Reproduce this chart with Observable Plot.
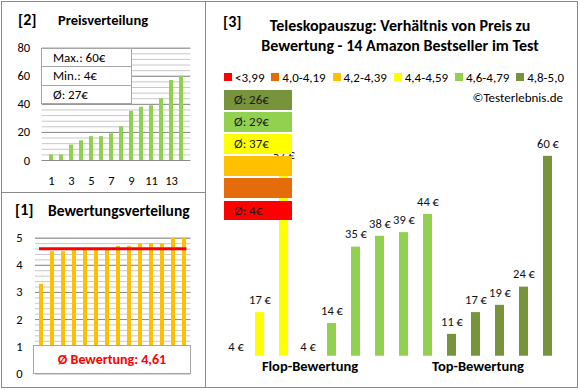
<!DOCTYPE html>
<html><head><meta charset="utf-8">
<script src="https://cdn.jsdelivr.net/npm/d3@7"></script>
<script src="https://cdn.jsdelivr.net/npm/@observablehq/plot@0.6"></script>
<style>
body{margin:0;background:#fff;font-family:Carlito,Lato,"Open Sans",sans-serif;color:#000;}
#root{position:relative;width:580px;height:390px;overflow:hidden;background:#fff;}
.abs{position:absolute;}
.line{position:absolute;background:#8a8a8a;}
.ttl{position:absolute;font-weight:bold;white-space:nowrap;line-height:1;}
.infobox{position:absolute;background:#fff;border:1px solid #a6a6a6;box-sizing:border-box;}
.inforow{height:18.3px;line-height:18.3px;padding-left:11px;font-size:13px;border-bottom:1px solid #a6a6a6;box-sizing:border-box;}
.inforow:last-child{border-bottom:none;}
.avgbox{position:absolute;left:224px;width:68px;height:19.5px;line-height:19.5px;font-size:13px;padding-left:10px;box-sizing:border-box;color:#1a1a1a;}
.leg{position:absolute;left:224px;top:71px;width:340px;display:flex;justify-content:space-between;font-size:13px;line-height:14px;white-space:nowrap;}
.leg span.sw{display:inline-block;width:8px;height:8px;margin-right:3px;vertical-align:1px;}
svg{position:absolute;overflow:visible;}
</style></head><body><div id="root"></div>
<script>
// ---- data (main chart order: sorted by rating) ----
const prices  = [4, 17, 57, 4, 14, 35, 38, 39, 44, 11, 17, 19, 24, 60];
const ratings = [3.3, 4.5, 4.5, 4.6, 4.6, 4.6, 4.6, 4.7, 4.7, 4.8, 4.8, 5.0, 4.8, 5.0];
const ratingClasses = ["<3,99", "4,0-4,19", "4,2-4,39", "4,4-4,59", "4,6-4,79", "4,8-5,0"];
const classLower   = [0, 4.0, 4.2, 4.4, 4.6, 4.8];
const classColors  = ["#FF0000", "#E46C0A", "#FFC000", "#FFFF00", "#92D050", "#77933C"];
const groupLabels  = ["Flop-Bewertung", "Top-Bewertung"];
const groupAt      = [3, 10];
const priceTicks   = [0, 20, 40, 60, 80];
const ratingTicks  = [0, 1, 2, 3, 4, 5];

const FONT = 'Carlito, Lato, "Open Sans", sans-serif';
const root = document.getElementById("root");
function el(tag, cls, css, html){const e=document.createElement(tag); if(cls)e.className=cls; if(css)e.style.cssText=css; if(html!=null)e.innerHTML=html; root.appendChild(e); return e;}

const classOf = r => { let k = 0; classLower.forEach((l, j) => { if (r >= l) k = j; }); return k; };
const mainData = prices.map((p, i) => ({i, price: p, rating: ratings[i], cls: ratingClasses[classOf(ratings[i])]}));
const sortedPrices = d3.sort(prices);
const sortedRatings = d3.sort(ratings);
const avgRating = d3.mean(ratings);

// ---- Panel [2] Preisverteilung ----
const minorP = d3.range(0, 81, 4);
const p2 = Plot.plot({
  width: 205, height: 192,
  marginLeft: 41.7, marginRight: 14.7, marginTop: 47.7, marginBottom: 32,
  style: {fontFamily: FONT, fontSize: "12px", background: "transparent", color: "#000"},
  x: {type: "band", domain: d3.range(1, 15), paddingInner: 0.62, paddingOuter: 0.31},
  y: {domain: [0, 80]},
  marks: [
    Plot.ruleY(minorP, {stroke: "#c8c8c8", strokeWidth: 1}),
    Plot.ruleY(priceTicks, {stroke: "#8c8c8c", strokeWidth: 1}),
    Plot.barY(sortedPrices.map((v, i) => ({n: i + 1, v})), {x: "n", y: "v", fill: "#92D050"}),
    Plot.axisY({ticks: priceTicks, tickSize: 0, tickPadding: 12, label: null, fontSize: 12.5, tickFormat: d3.format("d")}),
    Plot.axisX({tickSize: 0, tickPadding: 16, label: null, fontSize: 12.5, tickFormat: d => d % 2 ? d : ""})
  ]
});
p2.style.left = "0px"; p2.style.top = "0px";
root.appendChild(p2);

// ---- Panel [1] Bewertungsverteilung ----
const minorR = d3.range(0, 5.01, 0.2);
const p1 = Plot.plot({
  width: 205, height: 196,
  marginLeft: 35, marginRight: 14.5, marginTop: 45.7, marginBottom: 14.7,
  style: {fontFamily: FONT, fontSize: "12px", background: "transparent", color: "#000"},
  x: {type: "band", domain: d3.range(1, 15), paddingInner: 0.6, paddingOuter: 0.3, axis: null},
  y: {domain: [0, 5]},
  marks: [
    Plot.ruleY(minorR, {stroke: "#c8c8c8", strokeWidth: 1}),
    Plot.ruleY(ratingTicks, {stroke: "#8c8c8c", strokeWidth: 1}),
    Plot.barY(sortedRatings.map((v, i) => ({n: i + 1, v})), {x: "n", y: "v", fill: "#FFC000"}),
    Plot.ruleY([avgRating], {stroke: "#FF0000", strokeWidth: 3, insetLeft: 4, insetRight: 4}),
    Plot.axisY({ticks: ratingTicks, tickSize: 0, tickPadding: 13, label: null, fontSize: 12.5, tickFormat: d3.format("d")})
  ]
});
p1.style.left = "0px"; p1.style.top = "192px";
root.appendChild(p1);

// ---- Panel [3] main chart ----
const groups = groupLabels.map((label, k) => ({label, at: groupAt[k]}));
const main = Plot.plot({
  width: 372, height: 288,
  marginLeft: 17.5, marginRight: 18.5, marginTop: 19.5, marginBottom: 32.3,
  style: {fontFamily: FONT, fontSize: "12px", background: "transparent", color: "#000"},
  x: {type: "band", domain: d3.range(14), paddingInner: 0.625, paddingOuter: 0.3125, axis: null},
  y: {domain: [5, 70], axis: null},
  color: {domain: ratingClasses, range: classColors},
  marks: [
    Plot.barY(mainData, {x: "i", y: "price", fill: "cls", clip: true}),
    Plot.text(mainData, {x: "i", y: "price", text: d => d.price + " €", dy: -12.7, fontSize: 12.5, fill: "#111"}),
    Plot.text(groups, {x: "at", text: "label", frameAnchor: "bottom", dy: 14.3, dx: 2, fontSize: 14.5, fontWeight: "bold", fill: "#000"})
  ]
});
main.style.left = "206px"; main.style.top = "100px";
root.appendChild(main);

// ---- texts & boxes ----
el("div", "ttl", "left:18px;top:12px;font-size:16px;", "[2]");
el("div", "ttl", "left:58px;top:13px;font-size:14.5px;", "Preisverteilung");
el("div", "ttl", "left:15px;top:202px;font-size:16px;", "[1]");
el("div", "ttl", "left:48px;top:203px;font-size:15.5px;", "Bewertungsverteilung");
el("div", "ttl", "left:223px;top:14px;font-size:16px;", "[3]");
el("div", "ttl", "left:200px;top:16px;width:400px;text-align:center;font-size:16px;line-height:20px;",
   "Teleskopauszug: Verhältnis von Preis zu<br>Bewertung - 14 Amazon Bestseller im Test");

const info = el("div", "infobox", "left:41px;top:48px;width:91px;height:56px;");
[["Max.: ", d3.max(prices)], ["Min.: ", d3.min(prices)], ["Ø: ", Math.round(d3.mean(prices))]].forEach(([t, v]) => {
  const r = document.createElement("div"); r.className = "inforow"; r.textContent = t + v + "€"; info.appendChild(r);
});

el("div", "infobox", "left:33px;top:345px;width:158px;height:29px;line-height:27px;text-align:center;color:#FF0000;font-size:14px;font-weight:600;",
   "Ø Bewertung: " + avgRating.toFixed(2).replace(".", ","));

const leg = el("div", "leg", "");
ratingClasses.forEach((c, k) => {
  const s = document.createElement("span");
  s.innerHTML = `<span class="sw" style="background:${classColors[k]}"></span>${c}`;
  leg.appendChild(s);
});
el("div", "abs", "left:400px;top:91px;width:163px;text-align:right;font-size:13px;line-height:14px;", "©Testerlebnis.de");

// average boxes per class (top: best class)
ratingClasses.slice().reverse().forEach((c, k) => {
  const idx = ratingClasses.length - 1 - k;
  const vals = mainData.filter(d => d.cls === c).map(d => d.price);
  const txt = vals.length ? "Ø: " + Math.round(d3.mean(vals)) + "€" : "";
  el("div", "avgbox", `top:${90 + k * 22.1}px;background:${classColors[idx]};`, txt);
});

// borders
el("div", "line", "left:1px;top:1px;width:577px;height:1px;");
el("div", "line", "left:1px;top:387px;width:577px;height:1px;");
el("div", "line", "left:1px;top:1px;width:1px;height:387px;");
el("div", "line", "left:577px;top:1px;width:1px;height:387px;");
el("div", "line", "left:205px;top:1px;width:1px;height:387px;");
el("div", "line", "left:1px;top:192px;width:205px;height:1px;");
</script>
</body></html>
